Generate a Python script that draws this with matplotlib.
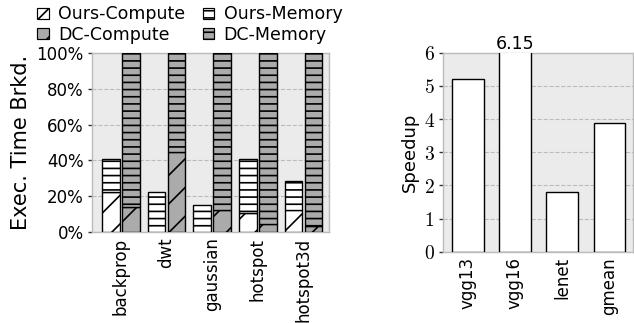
import matplotlib
matplotlib.use("Agg")
import matplotlib.pyplot as plt
import numpy as np
from matplotlib.patches import Patch

benchmarks = ['backprop', 'dwt', 'gaussian', 'hotspot', 'hotspot3d']
ours_compute = [22.6, 0.0, 0.0, 10.4, 12.3]
ours_total = [40.6, 22.6, 15.1, 40.6, 28.3]
dc_compute = [13.8, 44.7, 12.3, 4.2, 3.2]
dc_total = [100, 100, 100, 100, 100]

nets = ['vgg13', 'vgg16', 'lenet', 'gmean']
speedup = [5.21, 6.15, 1.79, 3.87]

DPI = 86
K = 100.0 / DPI  # keeps sizes as if drawn at 100 dpi

plt.rcParams['font.family'] = 'DejaVu Sans'
plt.rcParams['font.size'] = 12 * K
plt.rcParams['hatch.linewidth'] = 1.4
plt.rcParams['mathtext.fontset'] = 'cm'

BG = '#ebebeb'
SPINE = '#bbbbbb'
GRAY = '#ababab'
LW = 1.0 * K

fig = plt.figure(figsize=(634 / DPI, 323 / DPI), dpi=DPI)

# Left chart
ax1 = fig.add_axes([92/634, 91/323, 237/634, 179/323])
ax1.set_facecolor(BG)
x = np.arange(len(benchmarks))
w = 0.385
off = 0.22
oc = np.array(ours_compute)
om = np.array(ours_total) - oc
dcc = np.array(dc_compute)
dcm = np.array(dc_total) - dcc
ax1.bar(x - off, oc, w, color='white', edgecolor='black', hatch='/', lw=LW, zorder=3)
ax1.bar(x - off, om, w, bottom=oc, color='white', edgecolor='black', hatch='--', lw=LW, zorder=3)
ax1.bar(x + off, dcc, w, color=GRAY, edgecolor='black', hatch='/', lw=LW, zorder=3)
ax1.bar(x + off, dcm, w, bottom=dcc, color=GRAY, edgecolor='black', hatch='--', lw=LW, zorder=3)
ax1.set_xlim(-0.63, 4.56)
ax1.set_ylim(0, 100)
ax1.set_yticks([0, 20, 40, 60, 80, 100])
ax1.set_yticklabels(['0%', '20%', '40%', '60%', '80%', '100%'])
ax1.set_xticks(x)
ax1.set_xticklabels(benchmarks, rotation=90)
ax1.tick_params(axis='x', length=0, pad=4 * K)
ax1.tick_params(axis='y', length=3 * K, width=LW, color='#333333', pad=3 * K)
ax1.set_ylabel('Exec. Time Brkd.', fontsize=15 * K, labelpad=4 * K)
ax1.yaxis.grid(True, ls='--', color='#bbbbbb', lw=0.8 * K, zorder=0)
ax1.set_axisbelow(True)
for s in ax1.spines.values():
    s.set_color(SPINE)
    s.set_linewidth(LW)

handles = [
    Patch(facecolor='white', edgecolor='black', hatch='/', label='Ours-Compute'),
    Patch(facecolor=GRAY, edgecolor='black', hatch='/', label='DC-Compute'),
    Patch(facecolor='white', edgecolor='black', hatch='--', label='Ours-Memory'),
    Patch(facecolor=GRAY, edgecolor='black', hatch='--', label='DC-Memory'),
]
fig.legend(handles=handles, ncol=2, loc='upper left', bbox_to_anchor=(34/634, 1.0 - 2/323),
           frameon=False, handlelength=0.65, handleheight=0.65, handletextpad=0.55,
           columnspacing=1.0, labelspacing=0.12, borderaxespad=0.0, borderpad=0.2,
           prop={'size': 12.5 * K})

# Right chart
ax2 = fig.add_axes([443/634, 71.3/323, 190/634, 199/323])
ax2.set_facecolor(BG)
xr = np.arange(len(nets))
ax2.bar(xr, speedup, 0.67, color='white', edgecolor='black', lw=LW, zorder=3)
ax2.set_xlim(-0.525, 3.5)
ax2.set_ylim(0, 6)
ax2.set_yticks(range(7))
ax2.set_yticklabels(['$%d$' % v for v in range(7)], fontsize=14 * K)
ax2.set_xticks(xr)
ax2.set_xticklabels(nets, rotation=90)
ax2.tick_params(axis='x', length=0, pad=4 * K)
ax2.tick_params(axis='y', length=3 * K, width=LW, color='#333333', pad=3 * K)
ax2.set_ylabel('Speedup', fontsize=13 * K)
ax2.yaxis.grid(True, ls='--', color='#bbbbbb', lw=0.8 * K, zorder=0)
ax2.set_axisbelow(True)
for s in ax2.spines.values():
    s.set_color(SPINE)
    s.set_linewidth(LW)
for i, v in enumerate(speedup):
    if v > 6:
        ax2.text(i, 6.0, '%.2f' % v, ha='center', va='bottom', fontsize=12.5 * K)

fig.savefig('out.png', dpi=DPI)
